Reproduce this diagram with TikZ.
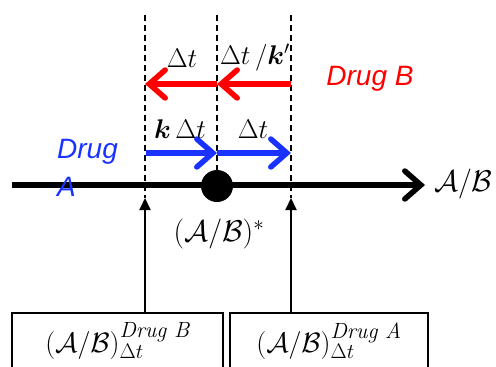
\RequirePackage{fix-cm}
\documentclass[tikz,border=0pt]{standalone}
\usepackage{fontspec}
\usepackage{bm}
\usetikzlibrary{arrows.meta}
\newfontfamily\arialf{Liberation Sans}
\definecolor{myred}{RGB}{255,0,0}
\definecolor{myblue}{RGB}{25,50,255}
\newcommand{\supfont}[1]{\hbox{\fontsize{22}{24}\selectfont\itshape #1}}
\newcommand{\subfont}[1]{\hbox{\fontsize{21}{24}\selectfont$#1$}}
\tikzset{
  dashline/.style={line width=1.3pt, dash pattern=on 6pt off 4pt},
  chev/.style={-{Straight Barb[length=16pt,width=28pt,line cap=round]}},
  axisline/.style={line width=5.5pt, chev},
  redarrow/.style={myred, line width=5.5pt, chev},
  bluearrow/.style={myblue, line width=5.5pt, chev},
  uparrow/.style={line width=2pt, -{Triangle[length=12pt,width=11pt]}},
  mathlbl/.style={inner sep=0pt, font=\fontsize{27}{30}\selectfont},
  druglbl/.style={inner sep=0pt, font=\fontsize{28}{38}\selectfont\arialf\itshape},
  resbox/.style={draw, line width=1.5pt, minimum height=56pt, inner sep=0pt, font=\fontsize{28}{32}\selectfont}
}
\begin{document}
\begin{tikzpicture}[x=1pt,y=-1pt]
\useasboundingbox (0,0) rectangle (496,367);
% dashed guides
\coordinate (dLt) at (145,15);
\coordinate (dMt) at (217,15);
\coordinate (dRt) at (291,15);
\coordinate (tipL) at (145,198);
\coordinate (tipR) at (291,198);
\coordinate (axL) at (12,185);
\coordinate (axR) at (425,185);
\draw[dashline] (dLt) -- (tipL);
\draw[dashline] (dRt) -- (tipR);
\draw[dashline] (dMt) -- (217,186);
% axis
\draw[axisline] (axL) -- (axR);
\node[circle, fill=black, minimum size=32pt, inner sep=0pt] (eq) at (217,186) {};
\node[mathlbl, anchor=west, font=\fontsize{30}{34}\selectfont] (axlbl) at (434,184) {$\mathcal{A}/\mathcal{B}$};
\node[mathlbl, font=\fontsize{30}{34}\selectfont] (eqlbl) at (219,234) {$(\mathcal{A}/\mathcal{B})^{*}$};
% red arrows
\coordinate (rR) at (291,84);
\coordinate (rM) at (217,84);
\coordinate (rL) at (145,84);
\draw[redarrow] (rR) -- (rM);
\draw[redarrow] (rM) -- (rL);
\node[mathlbl] (l1) at (182,58) {$\Delta t$};
\node[mathlbl] (l2) at (255,58) {$\Delta t\,/\bm{k}'$};
\node[druglbl, myred] (drugB) at (370,79) {Drug B};
% blue arrows
\coordinate (bL) at (146,153);
\coordinate (bM) at (217,153);
\coordinate (bR) at (291,153);
\draw[bluearrow] (bL) -- (bM);
\draw[bluearrow] (bM) -- (bR);
\node[mathlbl] (l3) at (180,129) {$\bm{k}\,\Delta t$};
\node[mathlbl] (l4) at (253,129) {$\Delta t$};
\node[druglbl, myblue, align=left, anchor=north west] (drugA) at (57,139) {Drug\\A};
% boxes
\node[resbox, minimum width=211pt] (boxB) at (117.5,341) {$(\mathcal{A}/\mathcal{B})^{\supfont{Drug B}}_{\subfont{\Delta t}}$};
\node[resbox, minimum width=198pt] (boxA) at (329,341) {$(\mathcal{A}/\mathcal{B})^{\supfont{Drug A}}_{\subfont{\Delta t}}$};
\draw[uparrow] (boxB.north -| tipL) -- (tipL);
\draw[uparrow] (boxA.north -| tipR) -- (tipR);
\end{tikzpicture}
\end{document}
